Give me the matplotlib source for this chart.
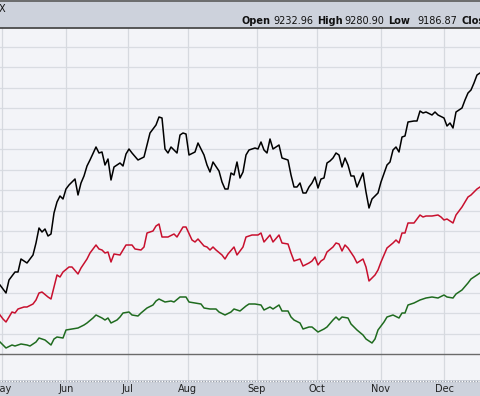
import matplotlib
matplotlib.use("Agg")
import matplotlib.pyplot as plt
import matplotlib.transforms as mtransforms
import numpy as np

# session index (trading days since start) and index level for each series
black_s = [0, 2, 3, 5, 6, 7, 9, 11, 12, 13, 14, 15, 16, 17, 18, 19, 20, 21, 22, 23,
           25, 26, 27, 28, 29, 30, 32, 33, 34, 35, 36, 37, 38, 40, 41, 42, 43, 44, 46, 48,
           50, 52, 53, 54, 55, 56, 57, 59, 60, 61, 62, 63, 65, 66, 68, 69, 70, 71, 73, 74,
           75, 76, 77, 78, 79, 80, 81, 82, 83, 85, 86, 87, 88, 89, 90, 91, 93, 94, 96, 97,
           98, 99, 100, 101, 102, 103, 104, 105, 106, 107, 108, 109, 110, 111, 112, 113, 114, 115, 116, 117,
           118, 119, 121, 122, 123, 124, 126, 127, 129, 130, 131, 132, 133, 134, 135, 136, 138, 139, 140, 141,
           142, 144, 145, 146, 148, 149, 150, 151, 152, 154, 155, 156, 157, 158, 159, 160]
black_v = [90, 82, 95, 103, 103, 116, 112, 120, 132, 147, 143, 146, 139, 141, 162, 173, 179, 176, 186, 190,
           196, 180, 192, 199, 209, 215, 228, 222, 223, 210, 216, 195, 208, 212, 209, 221, 226, 222, 215, 218,
           242, 250, 258, 257, 226, 222, 228, 222, 240, 242, 241, 220, 223, 232, 220, 210, 203, 213, 204, 193,
           186, 186, 202, 200, 213, 197, 203, 220, 225, 227, 226, 233, 225, 222, 236, 226, 230, 217, 215, 200,
           188, 188, 192, 182, 182, 188, 192, 198, 187, 196, 197, 212, 214, 217, 222, 220, 208, 217, 210, 199,
           199, 188, 202, 183, 167, 176, 182, 193, 210, 213, 225, 228, 223, 238, 239, 253, 254, 254, 264, 262,
           263, 260, 263, 260, 257, 249, 252, 247, 263, 267, 275, 282, 285, 292, 300, 302]

red_s = [0, 1, 2, 4, 5, 6, 8, 9, 11, 12, 13, 14, 16, 17, 18, 19, 20, 21, 23, 24,
         26, 27, 29, 30, 32, 33, 34, 35, 36, 37, 38, 40, 41, 42, 44, 45, 47, 48, 49, 51,
         52, 53, 54, 56, 58, 59, 61, 62, 64, 65, 66, 68, 69, 70, 71, 72, 74, 75, 76, 78,
         79, 81, 82, 84, 86, 87, 88, 90, 91, 93, 94, 96, 97, 98, 100, 101, 103, 104, 105, 106,
         107, 108, 109, 111, 112, 113, 114, 115, 116, 118, 119, 121, 122, 123, 125, 126, 127, 129, 131, 132,
         133, 134, 135, 136, 138, 140, 141, 142, 144, 146, 147, 148, 149, 151, 152, 154, 156, 157, 159, 160]
red_v = [60, 56, 53, 63, 62, 66, 68, 68, 71, 75, 82, 83, 78, 76, 88, 100, 98, 103, 108, 108,
         101, 107, 116, 122, 130, 126, 125, 122, 123, 113, 121, 120, 125, 130, 130, 126, 125, 128, 142, 144,
         149, 151, 138, 138, 141, 138, 148, 148, 135, 133, 136, 129, 128, 125, 128, 125, 120, 116, 121, 128,
         120, 128, 138, 140, 140, 142, 133, 140, 133, 140, 132, 131, 122, 114, 116, 109, 112, 114, 118, 110,
         114, 116, 123, 128, 132, 131, 124, 130, 127, 118, 112, 116, 108, 94, 100, 105, 113, 127, 132, 135,
         132, 142, 142, 152, 152, 160, 158, 159, 159, 160, 158, 155, 156, 152, 160, 168, 178, 180, 186, 188]

green_s = [0, 2, 4, 5, 7, 9, 10, 12, 13, 15, 17, 18, 19, 21, 22, 24, 26, 28, 29, 31,
           32, 34, 35, 36, 37, 39, 40, 41, 43, 44, 46, 47, 49, 51, 52, 53, 55, 57, 58, 60,
           62, 63, 65, 67, 68, 70, 72, 73, 75, 77, 78, 80, 82, 83, 85, 87, 88, 90, 91, 93,
           94, 96, 97, 98, 100, 101, 103, 104, 106, 108, 109, 111, 112, 113, 114, 116, 117, 119, 121, 122,
           124, 125, 126, 128, 129, 131, 133, 134, 135, 136, 138, 140, 142, 144, 146, 148, 149, 151, 152, 154,
           156, 157, 159, 160]
green_v = [33, 27, 30, 29, 31, 30, 29, 33, 37, 35, 30, 36, 38, 37, 45, 46, 47, 50, 52, 57,
           60, 57, 55, 57, 52, 55, 58, 62, 63, 60, 59, 62, 67, 70, 74, 76, 73, 74, 73, 78,
           78, 73, 72, 71, 67, 66, 66, 63, 60, 63, 66, 64, 69, 71, 71, 70, 65, 68, 66, 70,
           64, 64, 58, 55, 52, 46, 48, 48, 43, 46, 48, 55, 58, 55, 58, 57, 51, 45, 40, 36,
           32, 36, 45, 53, 58, 60, 57, 62, 62, 70, 72, 75, 77, 78, 77, 80, 78, 77, 81, 85,
           92, 96, 100, 102]

month_labels = ['May', 'Jun', 'Jul', 'Aug', 'Sep', 'Oct', 'Nov', 'Dec']
month_starts = [0.5, 22, 42.5, 62.5, 85.5, 105.5, 127, 148]

header_names = ['Open', 'High', 'Low', 'Close']
header_values = ['9232.96', '9280.90', '9186.87', '']

base_level = 21
grid_step = 20.5

W, H = 480, 396
fig = plt.figure(figsize=(W / 100, H / 100), dpi=100)
fig.patch.set_facecolor('#cdd2dc')

ax = fig.add_axes([0, 16 / H, 1, 352 / H])
ax.set_facecolor('#f3f4f8')
ax.set_xlim(0, 160)
ax.set_ylim(-5, 347)

for lv in np.arange(base_level + grid_step, 347, grid_step):
    ax.axhline(lv, color='#d9dce2', lw=0.9, zorder=1)
for m in month_starts:
    ax.axvline(m, color='#d6d9df', lw=0.9, zorder=1)
ax.axhline(base_level, color='#6a6a6a', lw=1.0, zorder=2)

ax.plot(green_s, green_v, color='#1f6b1f', lw=1.1, zorder=5)
ax.plot(red_s, red_v, color='#c8102e', lw=1.1, zorder=5)
ax.plot(black_s, black_v, color='#000000', lw=1.1, zorder=6)

for side in ['left', 'right', 'bottom']:
    ax.spines[side].set_visible(False)
ax.spines['top'].set_color('#4a4a4a')
ax.spines['top'].set_linewidth(1.3)
ax.set_xticks([])
ax.set_yticks([])

# month labels in the bottom band
trans = mtransforms.blended_transform_factory(ax.transData, fig.transFigure)
for m, lab in zip(month_starts, month_labels):
    fig.text(m, 1 - 389 / H, lab, transform=trans, ha='center', va='center',
             fontsize=7, color='#222222')

# band edges
fig.add_artist(plt.Line2D([0, 1], [1 - 380.5 / H] * 2, transform=fig.transFigure,
                          color='#9ba1ab', lw=1.0))
fig.add_artist(plt.Line2D([0, 1], [1 - 380.5 / H] * 2, transform=fig.transFigure,
                          color='#ffffff', lw=1.0, linestyle=(0, (1, 1))))
fig.add_artist(plt.Line2D([0, 1], [1 - 0.5 / H] * 2, transform=fig.transFigure,
                          color='#5a5a5a', lw=1.2))

# header
fig.text(5 / W, 1 - 9 / H, 'X', ha='right', va='center', fontsize=7, color='#111111')
name_x = [241, 317, 388, 462]
value_x = [273, 344, 417, 500]
for nx, vx, n, v in zip(name_x, value_x, header_names, header_values):
    fig.text(nx / W, 1 - 21 / H, n, ha='left', va='center', fontsize=7,
             fontweight='bold', color='#111111')
    if v:
        fig.text(vx / W, 1 - 21 / H, v, ha='left', va='center', fontsize=7,
                 color='#111111')

fig.savefig('out.png', dpi=100, facecolor=fig.get_facecolor())
